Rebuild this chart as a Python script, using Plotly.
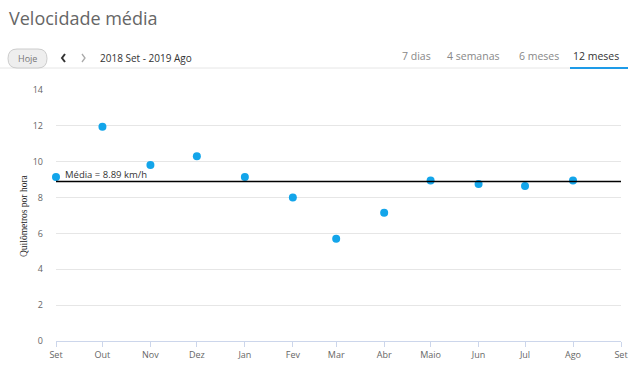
import plotly.graph_objects as go

months = ["2018-09-01", "2018-10-01", "2018-11-01", "2018-12-01", "2019-01-01", "2019-02-01",
          "2019-03-01", "2019-04-01", "2019-05-01", "2019-06-01", "2019-07-01", "2019-08-01"]
speeds = [9.15, 11.95, 9.82, 10.3, 9.15, 8.0, 5.7, 7.15, 8.95, 8.75, 8.65, 8.95]
mean_speed = 8.89
tick_dates = months + ["2019-09-01"]
tick_labels = ["Set", "Out", "Nov", "Dez", "Jan", "Fev", "Mar", "Abr", "Maio", "Jun", "Jul", "Ago", "Set"]
y_ticks = [0, 2, 4, 6, 8, 10, 12, 14]
tabs = ["7 dias", "4 semanas", "6 meses", "12 meses"]

W, H = 640, 369
L, R, T, B = 56, 19, 90, 28
pw, ph = W - L - R, H - T - B


def px(x):
    return (x - L) / pw


def py(y):
    return (H - B - y) / ph


fig = go.Figure()
fig.add_trace(go.Scatter(
    x=months, y=speeds, mode="markers",
    marker=dict(size=8, color="#13a5ea"),
    cliponaxis=False, showlegend=False, hoverinfo="x+y",
))

shapes = [
    dict(type="line", xref="paper", yref="y", x0=0, x1=1, y0=mean_speed, y1=mean_speed,
         line=dict(color="black", width=1.5), layer="above"),
    # header separator
    dict(type="line", xref="paper", yref="paper", x0=px(0), x1=px(628), y0=py(68), y1=py(68),
         line=dict(color="#e6e6e6", width=1)),
    # active tab underline
    dict(type="line", xref="paper", yref="paper", x0=px(570), x1=px(628), y0=py(68), y1=py(68),
         line=dict(color="#1e9be8", width=2)),
    # Hoje button
    dict(type="path", xref="paper", yref="paper",
         path=(f"M {px(17)},{py(49)} L {px(38)},{py(49)} Q {px(47)},{py(49)} {px(47)},{py(58.5)} "
               f"Q {px(47)},{py(68)} {px(38)},{py(68)} L {px(17)},{py(68)} "
               f"Q {px(8)},{py(68)} {px(8)},{py(58.5)} Q {px(8)},{py(49)} {px(17)},{py(49)} Z"),
         line=dict(color="#cccccc", width=1), fillcolor="#eeeeee"),
    # arrows
    dict(type="path", xref="paper", yref="paper",
         path=f"M {px(65)},{py(54)} L {px(62)},{py(58)} L {px(65)},{py(62)}",
         line=dict(color="#333333", width=2)),
    dict(type="path", xref="paper", yref="paper",
         path=f"M {px(82)},{py(54)} L {px(85)},{py(58)} L {px(82)},{py(62)}",
         line=dict(color="#aaaaaa", width=1.3)),
]

annotations = [
    dict(text="Velocidade média", xref="paper", yref="paper", x=px(7), y=py(18),
         xanchor="left", yanchor="middle", showarrow=False,
         font=dict(family="Open Sans", size=18, color="#666666")),
    dict(text="Hoje", xref="paper", yref="paper", x=px(27.5), y=py(58.5),
         xanchor="center", yanchor="middle", showarrow=False,
         font=dict(family="Open Sans", size=9, color="#777777")),
    dict(text="2018 Set - 2019 Ago", xref="paper", yref="paper", x=px(98), y=py(58),
         xanchor="left", yanchor="middle", showarrow=False,
         font=dict(family="Open Sans", size=10, color="#333333")),
    dict(text=f"Média = {mean_speed} km/h", xref="paper", yref="y", x=px(63), y=mean_speed,
         xanchor="left", yanchor="bottom", showarrow=False, yshift=-1,
         font=dict(family="Open Sans", size=9.5, color="#333333")),
    dict(text="Quilômetros por hora", xref="paper", yref="paper", x=px(24), y=py(216),
         xanchor="center", yanchor="middle", textangle=-90, showarrow=False,
         font=dict(family="Liberation Serif", size=9.5, color="#222222")),
]
tab_x = [416, 473, 539, 596]
for t, xx in zip(tabs, tab_x):
    annotations.append(dict(text=t, xref="paper", yref="paper", x=px(xx), y=py(56),
                            xanchor="center", yanchor="middle", showarrow=False,
                            font=dict(family="Open Sans", size=10.5,
                                      color="#333333" if t == "12 meses" else "#888888")))

fig.update_layout(
    width=W, height=H, margin=dict(l=L, r=R, t=T, b=B, autoexpand=False),
    paper_bgcolor="white", plot_bgcolor="white",
    shapes=shapes, annotations=annotations,
    xaxis=dict(type="date", range=["2018-09-01", "2019-09-01"],
               tickvals=tick_dates, ticktext=tick_labels, automargin=False,
               showgrid=False, zeroline=False, showline=True, linecolor="#ccd6eb", linewidth=1,
               ticks="outside", ticklen=5, tickcolor="#ccd6eb",
               tickfont=dict(family="Open Sans", size=9, color="#666666")),
    yaxis=dict(range=[0, 14], tickvals=y_ticks, showgrid=True, gridcolor="#e6e6e6",
               zeroline=False, showline=False, ticks="", ticklabelstandoff=12, automargin=False,
               tickfont=dict(family="Open Sans", size=9, color="#666666")),
)

fig.write_html("out.html", config={"displayModeBar": False},
               post_script="document.body.style.margin='0';")
